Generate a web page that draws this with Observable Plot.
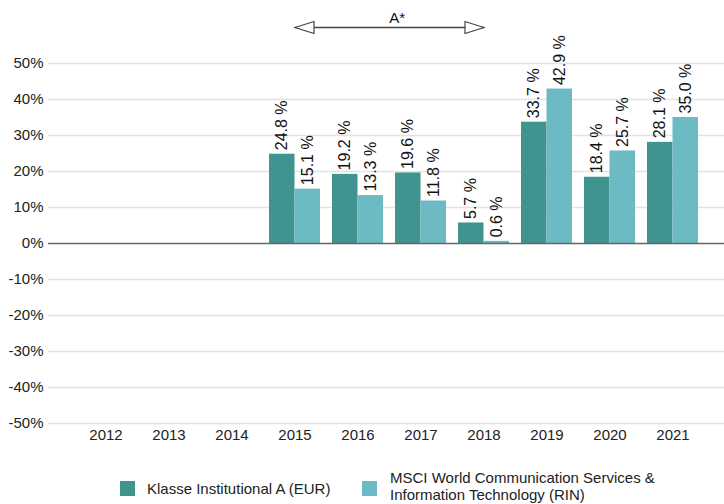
<!DOCTYPE html>
<html><head><meta charset="utf-8">
<script src="https://cdn.jsdelivr.net/npm/d3@7"></script>
<script src="https://cdn.jsdelivr.net/npm/@observablehq/plot@0.6"></script>
<style>
body{margin:0;background:#fff;font-family:"Liberation Sans",Arial,sans-serif;}
#chart svg g[aria-label^="x-axis"] text, #chart svg g[aria-label^="y-axis"] text{font-size:15px;fill:#222;}
#legend{position:relative;width:724px;height:54px;font-size:15px;color:#222;}
.sw{position:absolute;width:15px;height:15px;}
.lt{position:absolute;line-height:17px;}
</style></head><body>
<div id="chart"></div>
<div id="legend"></div>
<script>
const years = ["2012","2013","2014","2015","2016","2017","2018","2019","2020","2021"];
const fundValues = [null,null,null,24.8,19.2,19.6,5.7,33.7,18.4,28.1];
const benchValues = [null,null,null,15.1,13.3,11.8,0.6,42.9,25.7,35.0];
const seriesNames = ["Klasse Institutional A (EUR)","MSCI World Communication Services & Information Technology (RIN)"];
const seriesColors = ["#40948f","#6cbac3"];
const yTicks = [-50,-40,-30,-20,-10,0,10,20,30,40,50];
const periodLabel = "A*";
const periodFrom = "2015";
const periodTo = "2018";
const periodLevel = 60;

const BW = 51;          // band width (px)
const STEP = 63.35;     // band step (px)

const fundRows = years.map((y,i)=>({year:y, value:fundValues[i]})).filter(d=>d.value!=null);
const benchRows = years.map((y,i)=>({year:y, value:benchValues[i]})).filter(d=>d.value!=null);
const fmt = d => d.value.toFixed(1) + " %";

const leftTri = {draw(ctx){ctx.moveTo(0,0);ctx.lineTo(19,-6);ctx.lineTo(19,6);ctx.closePath();}};
const rightTri = {draw(ctx){ctx.moveTo(0,0);ctx.lineTo(-19,-6);ctx.lineTo(-19,6);ctx.closePath();}};

const chart = Plot.plot({
  width: 724, height: 450,
  marginLeft: 48, marginRight: 0, marginTop: 63, marginBottom: 27,
  style: {fontFamily: '"Liberation Sans", Arial, sans-serif', fontSize: "15px", color: "#222", background: "#fff"},
  x: {domain: years, range: [72.5, 706], paddingInner: 0.195, paddingOuter: 0.0975, tickSize: 0, tickPadding: 6, label: null},
  y: {domain: [-50, 50], ticks: yTicks, tickFormat: d => d + "%", tickSize: 0, tickPadding: 5, label: null},
  marks: [
    Plot.ruleY(yTicks.filter(d => d !== 0), {stroke: "#e3e3e3", strokeWidth: 1.6}),
    Plot.barY(fundRows, {x: "year", y: "value", fill: seriesColors[0], insetRight: BW/2}),
    Plot.barY(benchRows, {x: "year", y: "value", fill: seriesColors[1], insetLeft: BW/2}),
    Plot.ruleY([0], {stroke: "#666", strokeWidth: 1.5}),
    Plot.text(fundRows, {x: "year", y: "value", text: fmt, rotate: -90, textAnchor: "start", dx: -BW/4, dy: -4, fontSize: 16, fill: "#111"}),
    Plot.text(benchRows, {x: "year", y: "value", text: fmt, rotate: -90, textAnchor: "start", dx: BW/4, dy: -4, fontSize: 16, fill: "#111"}),
    Plot.link([{a: periodFrom, b: periodTo, y: periodLevel}], {x1: "a", x2: "b", y1: "y", y2: "y", stroke: "#444", strokeWidth: 1.3}),
    Plot.dot([{x: periodFrom, y: periodLevel}], {x: "x", y: "y", symbol: leftTri, fill: "#fff", stroke: "#444", strokeWidth: 1.2}),
    Plot.dot([{x: periodTo, y: periodLevel}], {x: "x", y: "y", symbol: rightTri, fill: "#fff", stroke: "#444", strokeWidth: 1.2}),
    Plot.text([{x: "2017", y: periodLevel, t: periodLabel}], {x: "x", y: "y", text: "t", textAnchor: "start", lineAnchor: "bottom", dx: -STEP/2, dy: -5, fontSize: 15, fill: "#111"})
  ]
});
document.getElementById("chart").appendChild(chart);

const legend = document.getElementById("legend");
const items = [
  {left: 120, textLeft: 147, textTop: 30, width: 200},
  {left: 362, textLeft: 390, textTop: 19, width: 300}
];
items.forEach((it, i) => {
  const sw = document.createElement("div");
  sw.className = "sw"; sw.style.left = it.left + "px"; sw.style.top = "31px"; sw.style.background = seriesColors[i];
  legend.appendChild(sw);
  const t = document.createElement("div");
  t.className = "lt"; t.style.left = it.textLeft + "px"; t.style.top = it.textTop + "px"; t.style.width = it.width + "px";
  t.textContent = seriesNames[i];
  legend.appendChild(t);
});
</script>
</body></html>
